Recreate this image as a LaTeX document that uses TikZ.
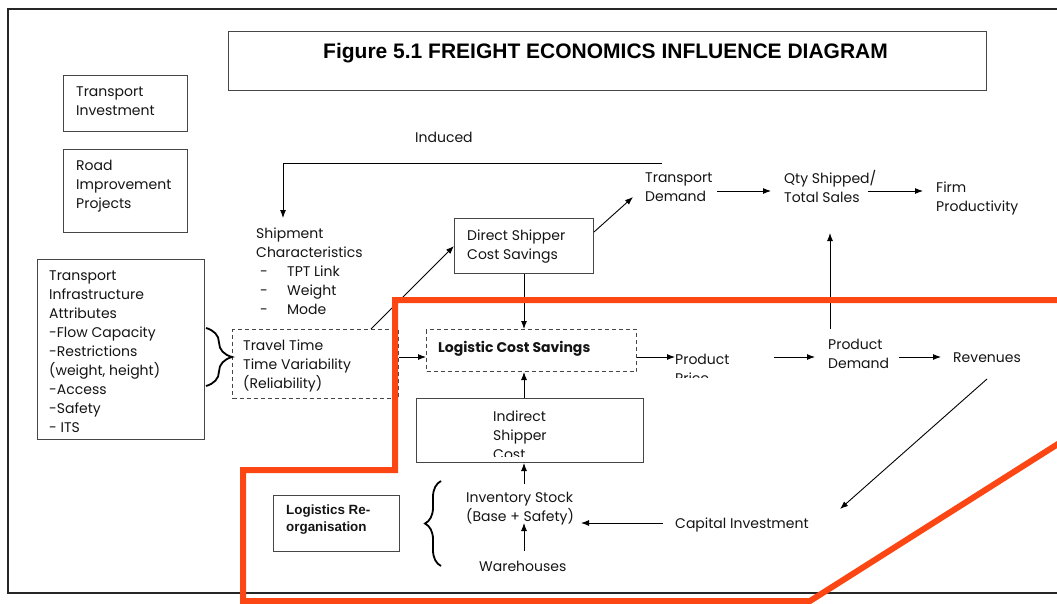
\documentclass[tikz,border=0pt]{standalone}
\usepackage{fontspec}
\setmainfont{Poppins}
\newfontfamily\arialfont{Liberation Sans}
\usetikzlibrary{arrows.meta,calc,decorations.pathreplacing}
\definecolor{markred}{RGB}{252,70,20}
\definecolor{boxgray}{RGB}{70,70,70}
\newcommand{\dashitem}[1]{\hspace*{4pt}\makebox[27pt][l]{-}#1}

\begin{document}
\begin{tikzpicture}[x=1pt, y=-1pt, >={Latex[length=8pt,width=6pt]},
    box/.style={draw=boxgray, line width=1pt, anchor=north west, inner sep=0pt},
    dbox/.style={box, dash pattern=on 4pt off 3pt},
    txt/.style={anchor=north west, inner sep=0pt, align=left, text=black!92,
      font=\fontsize{14}{19}\selectfont},
    link/.style={->, line width=0.9pt},
    brc/.style={line width=1.8pt, decorate}]
    \clip (0,0) rectangle (1057,603);
    \draw[line width=1.4pt, black!85] (8,9) rectangle (1080,593);

    \node[box, minimum width=758pt, minimum height=59pt] (titlebox) at (228,31) {};
    \node[anchor=north west, inner sep=0pt, font=\arialfont\bfseries\fontsize{21}{25}\selectfont]
        (title) at (323,43) {Figure 5.1 FREIGHT ECONOMICS INFLUENCE DIAGRAM};

    \node[box, minimum width=124pt, minimum height=56pt] (tibox) at (63,75) {};
    \node[box, minimum width=124pt, minimum height=83pt] (ripbox) at (63,149) {};
    \node[box, minimum width=167pt, minimum height=180pt] (tiabox) at (37,259) {};
    \node[dbox, minimum width=166pt, minimum height=69pt] (ttbox) at (232,329) {};
    \node[box, minimum width=139pt, minimum height=55pt] (dscbox) at (454,218) {};
    \node[dbox, minimum width=210pt, minimum height=42pt] (lcsbox) at (426,329) {};
    \node[box, minimum width=227pt, minimum height=64pt] (iscbox) at (416,398) {};
    \node[box, minimum width=126pt, minimum height=56pt] (lrobox) at (273,495) {};

    \node[txt] (ti) at (76,87) {Transport\\Investment};
    \node[txt] (rip) at (76,160) {Road\\Improvement\\Projects};
    \node[txt] (induced) at (415,132) {Induced};
    \node[txt] (sc) at (256,228) {Shipment\\Characteristics\\\dashitem{TPT Link}\\\dashitem{Weight}\\\dashitem{Mode}};
    \node[txt] (tia) at (49,271) {Transport\\Infrastructure\\Attributes\\-Flow Capacity\\-Restrictions\\(weight, height)\\-Access\\-Safety\\- ITS};
    \node[txt] (tt) at (243,340) {Travel Time\\Time Variability\\(Reliability)};
    \node[txt] (dsc) at (467,230) {Direct Shipper\\Cost Savings};
    \node[txt] (td) at (645,173) {Transport\\Demand};
    \node[txt] (qty) at (784,170) {Qty Shipped/\\Total Sales};
    \node[txt] (firm) at (936,182) {Firm\\Productivity};
    \node[txt, font=\bfseries\fontsize{14}{19}\selectfont] (lcs) at (438,341) {Logistic Cost Savings};
    \begin{scope}
        \clip (660,340) rectangle (780,377);
        \node[txt] (pp) at (675,354) {Product\\Price};
    \end{scope}
    \node[txt] (pd) at (828,339) {Product\\Demand};
    \node[txt] (rev) at (953,353) {Revenues};
    \begin{scope}
        \clip (416,398) rectangle (643,456);
        \node[txt] (isc) at (493,411) {Indirect\\Shipper\\Cost};
    \end{scope}
    \node[txt] (inv) at (466,492) {Inventory Stock\\(Base + Safety)};
    \node[txt] (wh) at (479,561) {Warehouses};
    \node[txt] (ci) at (675,518) {Capital Investment};
    \node[txt, font=\arialfont\bfseries\fontsize{13.4}{17}\selectfont] (lro) at (286,505) {Logistics Re-\\organisation};

    \coordinate (row) at (0,357);

    \draw[link] ($(td.north west)+(17,-10)$) -| ($(sc.north west)+(27,-10)$);
    \draw[link] ($(ttbox.north east)+(-28,0)$) -- (dscbox.west);
    \draw[link] ($(dscbox.north east)+(0,14)$) -- ($(td.north west)+(-12,24)$);
    \draw[link] ($(td.north west)+(72,18)$) -- ($(qty.north west)+(-13,21)$);
    \draw[link] ($(qty.north west)+(84,21)$) -- ($(firm.north west)+(-13,9)$);
    \draw[link] ($(pd.north west)+(2,-10)$) -- ($(qty.north west)+(46,63)$);
    \draw[link] (dscbox.south) -- (dscbox.south |- lcsbox.north);
    \draw[link] (ttbox.east |- row) -- (lcsbox.west |- row);
    \draw[link] (lcsbox.east |- row) -- (pp.west |- row);
    \draw[link] ($(pd.north west)+(-54,18)$) -- ($(pd.north west)+(-13,18)$);
    \draw[link] ($(rev.north west)+(-54,4)$) -- ($(rev.north west)+(-12,4)$);
    \draw[link] ($(rev.north west)+(34,26)$) -- ($(ci.north west)+(165,-9)$);
    \draw[link] (iscbox.north -| dscbox.south) -- (lcsbox.south -| dscbox.south);
    \draw[link] ($(inv.north -| dscbox.south)+(0,-8)$) -- (iscbox.south -| dscbox.south);
    \draw[link] ($(wh.north -| dscbox.south)+(0,-10)$) -- ($(inv.north -| dscbox.south)+(0,31)$);
    \draw[link] ($(ci.north west)+(-12,5)$) -- ($(ci.north west)+(-94,5)$);

    \draw[brc, decoration={brace, amplitude=26pt}] (206,328) -- (206,386);
    \draw[brc, decoration={brace, amplitude=16pt}] (441,566) -- (441,481);

    \draw[markred, line width=6pt] (1080,300) -- (395,300) -- (395,470) -- (243,470)
        -- (243,601) -- (810,601) -- (1080,430);
\end{tikzpicture}
\end{document}
